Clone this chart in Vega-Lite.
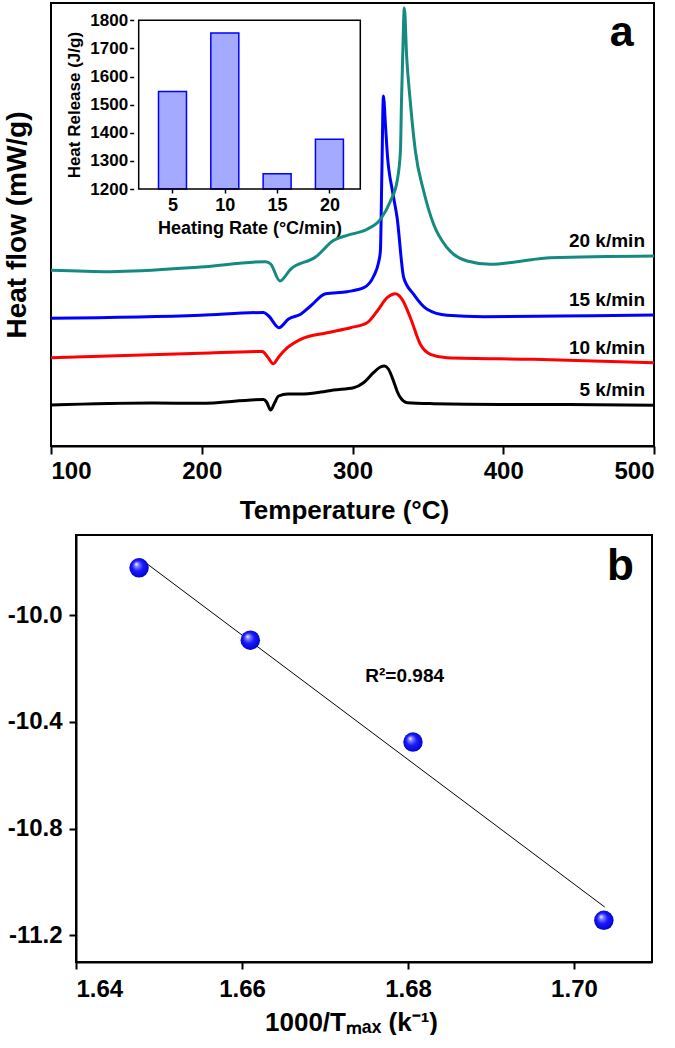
{
  "$schema": "https://vega.github.io/schema/vega-lite/v6.json",
  "padding": {"left": 2, "top": 1, "right": 0, "bottom": 0},
  "background": "white",
  "config": {
    "font": "Liberation Sans",
    "view": {"stroke": "black", "strokeWidth": 2},
    "axis": {
      "grid": false,
      "labelFont": "Liberation Sans",
      "titleFont": "Liberation Sans",
      "labelFontWeight": "bold",
      "titleFontWeight": "bold",
      "labelColor": "black",
      "titleColor": "black",
      "tickColor": "black",
      "domainColor": "black",
      "tickWidth": 2,
      "domainWidth": 2
    },
    "text": {"font": "Liberation Sans", "fontWeight": "bold", "color": "black"}
  },
  "datasets": {
    "dsc": [
      {"r": "5 k/min", "T": 100, "h": 41},
      {"r": "5 k/min", "T": 166, "h": 43},
      {"r": "5 k/min", "T": 199, "h": 42.7},
      {"r": "5 k/min", "T": 241, "h": 46.5},
      {"r": "5 k/min", "T": 243, "h": 44},
      {"r": "5 k/min", "T": 245.7, "h": 36},
      {"r": "5 k/min", "T": 248.3, "h": 43},
      {"r": "5 k/min", "T": 251, "h": 50},
      {"r": "5 k/min", "T": 257, "h": 52},
      {"r": "5 k/min", "T": 265.6, "h": 52},
      {"r": "5 k/min", "T": 279, "h": 54},
      {"r": "5 k/min", "T": 287.4, "h": 56},
      {"r": "5 k/min", "T": 300.7, "h": 58.3},
      {"r": "5 k/min", "T": 307.3, "h": 63.3},
      {"r": "5 k/min", "T": 313.9, "h": 73.3},
      {"r": "5 k/min", "T": 318.5, "h": 79},
      {"r": "5 k/min", "T": 321.2, "h": 80},
      {"r": "5 k/min", "T": 323.8, "h": 77},
      {"r": "5 k/min", "T": 327.2, "h": 65},
      {"r": "5 k/min", "T": 329.8, "h": 54},
      {"r": "5 k/min", "T": 331.8, "h": 48.3},
      {"r": "5 k/min", "T": 336.4, "h": 43.3},
      {"r": "5 k/min", "T": 353.6, "h": 42.3},
      {"r": "5 k/min", "T": 398, "h": 41.5},
      {"r": "5 k/min", "T": 437.7, "h": 41.5},
      {"r": "5 k/min", "T": 500, "h": 40.7},
      {"r": "10 k/min", "T": 100, "h": 88.3},
      {"r": "10 k/min", "T": 199.3, "h": 92.7},
      {"r": "10 k/min", "T": 240.2, "h": 94.5},
      {"r": "10 k/min", "T": 243.7, "h": 89},
      {"r": "10 k/min", "T": 247.5, "h": 82.3},
      {"r": "10 k/min", "T": 251, "h": 89},
      {"r": "10 k/min", "T": 256.8, "h": 98.3},
      {"r": "10 k/min", "T": 265.6, "h": 106.7},
      {"r": "10 k/min", "T": 283.2, "h": 113.3},
      {"r": "10 k/min", "T": 298.7, "h": 118.3},
      {"r": "10 k/min", "T": 309.7, "h": 123.3},
      {"r": "10 k/min", "T": 316.4, "h": 135},
      {"r": "10 k/min", "T": 323, "h": 148.3},
      {"r": "10 k/min", "T": 328.5, "h": 152.3},
      {"r": "10 k/min", "T": 332.9, "h": 146.7},
      {"r": "10 k/min", "T": 338.4, "h": 128.3},
      {"r": "10 k/min", "T": 345, "h": 101.7},
      {"r": "10 k/min", "T": 351.7, "h": 91.7},
      {"r": "10 k/min", "T": 362.7, "h": 88.3},
      {"r": "10 k/min", "T": 419.9, "h": 86.7},
      {"r": "10 k/min", "T": 500, "h": 83.3},
      {"r": "15 k/min", "T": 100, "h": 127.7},
      {"r": "15 k/min", "T": 199.3, "h": 130.7},
      {"r": "15 k/min", "T": 241, "h": 133.5},
      {"r": "15 k/min", "T": 244.4, "h": 130},
      {"r": "15 k/min", "T": 251.2, "h": 118.3},
      {"r": "15 k/min", "T": 257.6, "h": 127},
      {"r": "15 k/min", "T": 265.6, "h": 131.7},
      {"r": "15 k/min", "T": 272.2, "h": 140},
      {"r": "15 k/min", "T": 282.1, "h": 152.3},
      {"r": "15 k/min", "T": 296.5, "h": 154.3},
      {"r": "15 k/min", "T": 307.5, "h": 158.3},
      {"r": "15 k/min", "T": 314.1, "h": 170},
      {"r": "15 k/min", "T": 317.2, "h": 183},
      {"r": "15 k/min", "T": 318.5, "h": 195},
      {"r": "15 k/min", "T": 319.5, "h": 275},
      {"r": "15 k/min", "T": 320.5, "h": 350},
      {"r": "15 k/min", "T": 321.9, "h": 320},
      {"r": "15 k/min", "T": 323.2, "h": 290},
      {"r": "15 k/min", "T": 326.5, "h": 255},
      {"r": "15 k/min", "T": 329.6, "h": 228.3},
      {"r": "15 k/min", "T": 334, "h": 168.3},
      {"r": "15 k/min", "T": 340.6, "h": 151.7},
      {"r": "15 k/min", "T": 349.5, "h": 136.7},
      {"r": "15 k/min", "T": 362.7, "h": 130.7},
      {"r": "15 k/min", "T": 386.9, "h": 129.3},
      {"r": "15 k/min", "T": 437.7, "h": 130},
      {"r": "15 k/min", "T": 500, "h": 131},
      {"r": "20 k/min", "T": 100, "h": 175.7},
      {"r": "20 k/min", "T": 139.7, "h": 174.3},
      {"r": "20 k/min", "T": 199.3, "h": 179},
      {"r": "20 k/min", "T": 242.4, "h": 184.3},
      {"r": "20 k/min", "T": 245.7, "h": 182},
      {"r": "20 k/min", "T": 251.9, "h": 165},
      {"r": "20 k/min", "T": 258.9, "h": 176.7},
      {"r": "20 k/min", "T": 275.5, "h": 189},
      {"r": "20 k/min", "T": 287.6, "h": 205.7},
      {"r": "20 k/min", "T": 296.5, "h": 210.7},
      {"r": "20 k/min", "T": 309.7, "h": 216.7},
      {"r": "20 k/min", "T": 318.5, "h": 226.7},
      {"r": "20 k/min", "T": 325.2, "h": 245},
      {"r": "20 k/min", "T": 329.6, "h": 265},
      {"r": "20 k/min", "T": 331.8, "h": 295},
      {"r": "20 k/min", "T": 332.5, "h": 345},
      {"r": "20 k/min", "T": 333.3, "h": 390},
      {"r": "20 k/min", "T": 334.4, "h": 438},
      {"r": "20 k/min", "T": 335.9, "h": 390},
      {"r": "20 k/min", "T": 338.3, "h": 345},
      {"r": "20 k/min", "T": 341.7, "h": 295},
      {"r": "20 k/min", "T": 347.2, "h": 255},
      {"r": "20 k/min", "T": 353.8, "h": 221.7},
      {"r": "20 k/min", "T": 362.7, "h": 198.3},
      {"r": "20 k/min", "T": 376, "h": 185},
      {"r": "20 k/min", "T": 391.4, "h": 181.7},
      {"r": "20 k/min", "T": 409, "h": 184.3},
      {"r": "20 k/min", "T": 431.1, "h": 188.3},
      {"r": "20 k/min", "T": 500, "h": 190}
    ],
    "inset": [
      {"rate": 5, "hr": 1547},
      {"rate": 10, "hr": 1755},
      {"rate": 15, "hr": 1254},
      {"rate": 20, "hr": 1377}
    ],
    "kin": [
      {"x": 1.6476, "y": -9.823},
      {"x": 1.661, "y": -10.094},
      {"x": 1.6806, "y": -10.476},
      {"x": 1.7036, "y": -11.144}
    ],
    "fit": [
      {"x": 1.6477, "y": -9.788},
      {"x": 1.7037, "y": -11.094}
    ]
  },
  "spacing": 10,
  "vconcat": [
    {
      "width": 603,
      "height": 443,
      "resolve": {"scale": {"x": "independent", "y": "independent"}},
      "layer": [
        {
          "data": {"name": "dsc"},
          "layer": [
            {
              "mark": {"type": "line", "strokeWidth": 3, "interpolate": "monotone"},
              "encoding": {
                "x": {
                  "field": "T", "type": "quantitative",
                  "scale": {"domain": [100, 500], "nice": false, "zero": false},
                  "axis": {"orient": "bottom", "values": [100, 200, 300, 400, 500], "tickSize": 8, "labelFontSize": 24, "labelPadding": 5, "title": "Temperature (°C)", "titleFontSize": 26, "titlePadding": 14, "titleX": 293, "titleAlign": "center"}
                },
                "y": {
                  "field": "h", "type": "quantitative",
                  "scale": {"domain": [0, 443], "nice": false, "zero": false},
                  "axis": {"orient": "left", "labels": false, "ticks": false, "domain": false, "title": "Heat flow (mW/g)", "titleFontSize": 28, "titlePadding": 20}
                },
                "color": {
                  "field": "r", "type": "nominal",
                  "scale": {"domain": ["5 k/min", "10 k/min", "15 k/min", "20 k/min"], "range": ["#000000", "#ff0000", "#0000ff", "#148a80"]},
                  "legend": null
                }
              }
            },
            {
              "transform": [{"filter": "datum.T == 500"}],
              "mark": {"type": "text", "align": "right", "baseline": "middle", "dx": -9, "dy": -15, "fontSize": 19, "fontWeight": "bold"},
              "encoding": {
                "x": {"field": "T", "type": "quantitative"},
                "y": {"field": "h", "type": "quantitative"},
                "text": {"field": "r"}
              }
            },
            {
              "data": {"values": [{"lab": "a"}]},
              "mark": {"type": "text", "align": "center", "baseline": "alphabetic", "fontSize": 43, "fontWeight": "bold"},
              "encoding": {
                "x": {"datum": 478.6},
                "y": {"datum": 400},
                "text": {"field": "lab"}
              }
            }
          ]
        },
        {
          "data": {"name": "inset"},
          "layer": [
            {
              "mark": {"type": "bar", "size": 28, "fill": "#a3aaff", "stroke": "#0000ff", "strokeWidth": 1.5},
              "encoding": {
                "x": {
                  "field": "rate", "type": "quantitative",
                  "scale": {"domain": [1.77, 22.95], "nice": false, "zero": false, "range": [82.7, 314.3]},
                  "axis": {"orient": "bottom", "offset": -257, "values": [5, 10, 15, 20], "domain": false, "tickSize": 4, "tickWidth": 1.5, "labelFontSize": 18, "labelPadding": 3, "title": "Heating Rate (°C/min)", "titleFontSize": 18, "titlePadding": 5}
                },
                "y": {
                  "field": "hr", "type": "quantitative",
                  "scale": {"domain": [1200, 1800], "nice": false, "zero": false, "range": [186, 17.3]},
                  "axis": {"orient": "left", "offset": -82.7, "values": [1200, 1300, 1400, 1500, 1600, 1700, 1800], "format": "d", "domain": false, "tickSize": 4, "tickWidth": 1.5, "labelFontSize": 17, "labelPadding": 2, "title": "Heat Release (J/g)", "titleFontSize": 17, "titlePadding": 6}
                },
                "y2": {"datum": 1200}
              }
            },
            {
              "data": {"values": [{}]},
              "mark": {"type": "rect", "fillOpacity": 0, "stroke": "black", "strokeWidth": 1.5},
              "encoding": {
                "x": {"datum": 1.77},
                "x2": {"datum": 22.95},
                "y": {"datum": 1200},
                "y2": {"datum": 1800}
              }
            }
          ]
        }
      ]
    },
    {
      "width": 601,
      "height": 427,
      "view": {"stroke": null},
      "layer": [
        {
          "data": {"values": [{}]},
          "mark": {"type": "rect", "fillOpacity": 0, "stroke": "black", "strokeWidth": 2},
          "encoding": {
            "x": {
              "datum": 1.64, "type": "quantitative",
              "scale": {"domain": [1.64, 1.7094], "nice": false, "zero": false, "range": [25, 601]},
              "axis": {"values": [1.64, 1.66, 1.68, 1.70], "format": ".2f", "tickSize": 7, "labelFontSize": 24, "labelPadding": 8, "title": "1000/Tₘₐₓ (k⁻¹)", "titleFontSize": 26, "titlePadding": 8, "titleX": 300, "titleAlign": "center"}
            },
            "x2": {"datum": 1.7094},
            "y": {
              "datum": -11.30, "type": "quantitative",
              "scale": {"domain": [-11.30, -9.70], "nice": false, "zero": false},
              "axis": {"offset": -25, "values": [-10.0, -10.4, -10.8, -11.2], "format": ".1f", "labelExpr": "replace(datum.label, '−', '-')", "tickSize": 7, "labelFontSize": 24, "labelPadding": 7, "title": null}
            },
            "y2": {"datum": -9.70}
          }
        },
        {
          "data": {"name": "fit"},
          "mark": {"type": "line", "color": "black", "strokeWidth": 1},
          "encoding": {
            "x": {"field": "x", "type": "quantitative"},
            "y": {"field": "y", "type": "quantitative"}
          }
        },
        {
          "data": {"name": "kin"},
          "mark": {
            "type": "point", "shape": "circle", "filled": true, "size": 380, "opacity": 1, "strokeWidth": 0,
            "fill": {"gradient": "radial", "x1": 0.35, "y1": 0.3, "r1": 0, "x2": 0.5, "y2": 0.5, "r2": 0.55,
              "stops": [{"offset": 0, "color": "#ffffff"}, {"offset": 0.2, "color": "#8080ff"}, {"offset": 0.5, "color": "#1a1aff"}, {"offset": 1, "color": "#0000c0"}]}
          },
          "encoding": {
            "x": {"field": "x", "type": "quantitative"},
            "y": {"field": "y", "type": "quantitative"}
          }
        },
        {
          "data": {"values": [{"lab": "R²=0.984"}]},
          "mark": {"type": "text", "align": "center", "baseline": "alphabetic", "fontSize": 19, "fontWeight": "bold"},
          "encoding": {
            "x": {"datum": 1.6796},
            "y": {"datum": -10.251},
            "text": {"field": "lab"}
          }
        },
        {
          "data": {"values": [{"lab": "b"}]},
          "mark": {"type": "text", "align": "center", "baseline": "alphabetic", "fontSize": 44, "fontWeight": "bold"},
          "encoding": {
            "x": {"datum": 1.7056},
            "y": {"datum": -9.869},
            "text": {"field": "lab"}
          }
        }
      ]
    }
  ]
}
